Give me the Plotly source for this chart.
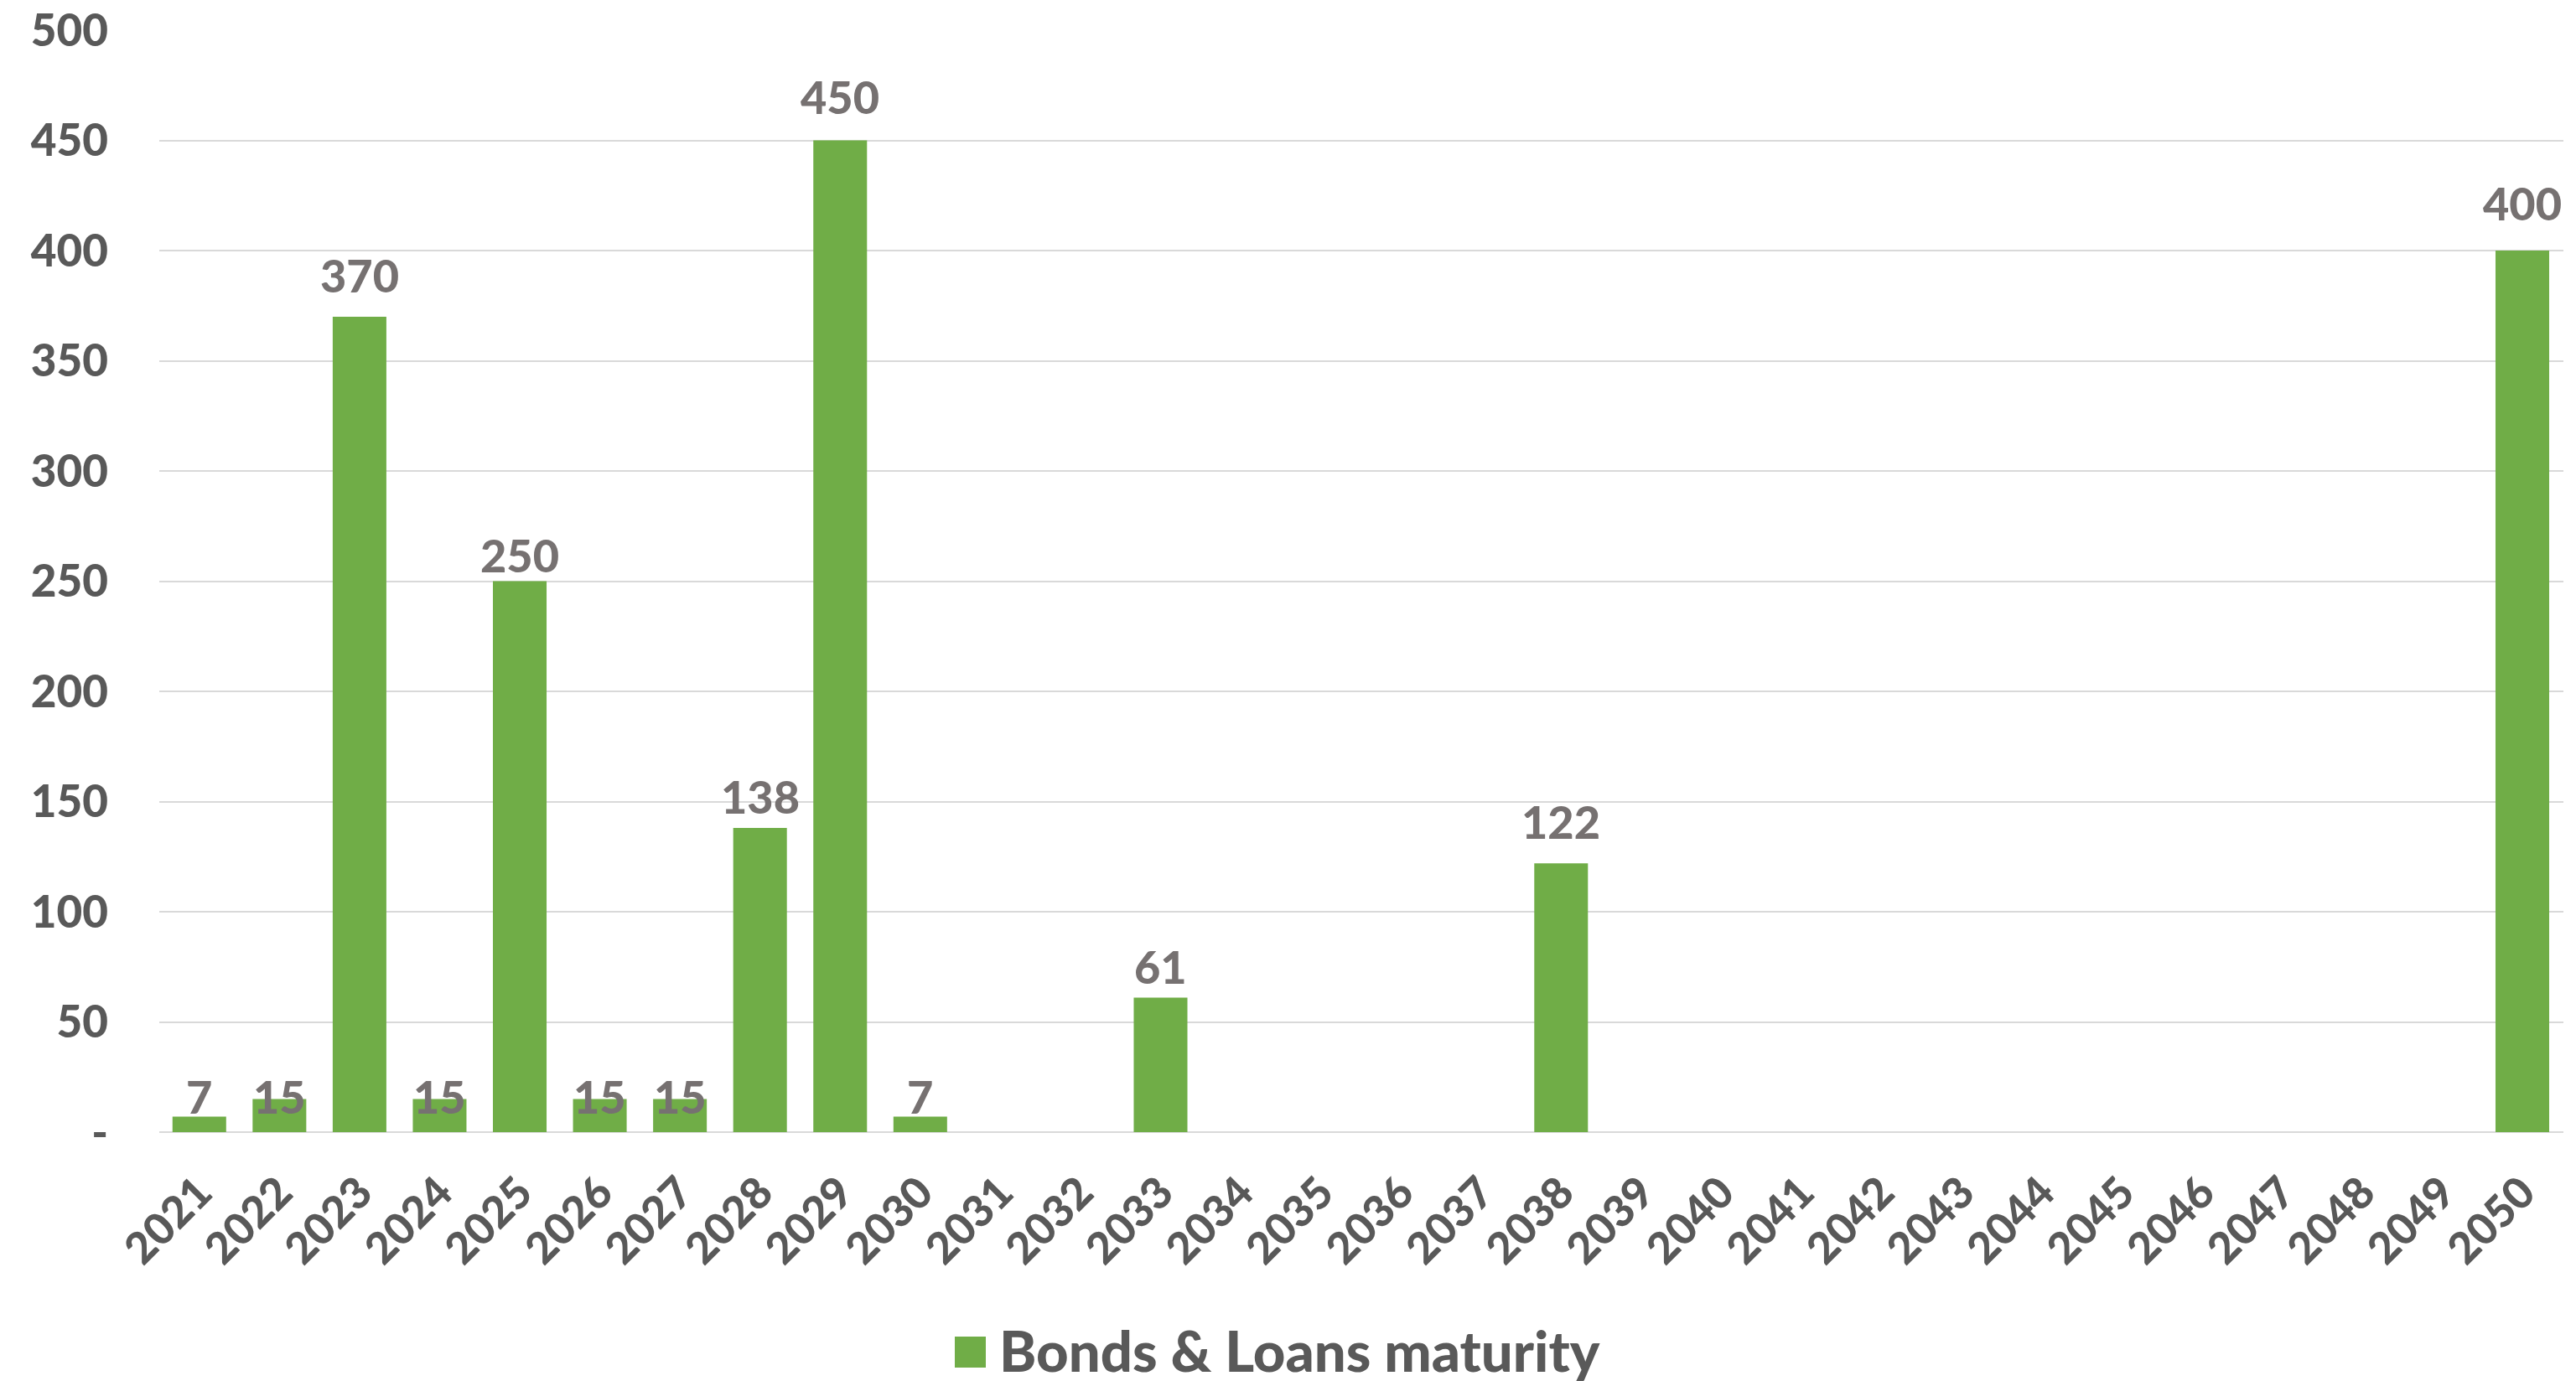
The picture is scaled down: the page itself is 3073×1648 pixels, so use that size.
import plotly.graph_objects as go

# Debt maturity profile: bonds & loans falling due per year
years = [str(y) for y in range(2021, 2051)]
maturity = [7, 15, 370, 15, 250, 15, 15, 138, 450, 7,
            None, None, 61, None, None, None, None, 122, None, None,
            None, None, None, None, None, None, None, None, None, 400]

y_tick_vals = [0, 50, 100, 150, 200, 250, 300, 350, 400, 450, 500]
y_tick_text = ["-", "50", "100", "150", "200", "250", "300", "350", "400", "450", "500"]

series_name = "Bonds & Loans maturity"

# layout constants (pixels)
W, H = 3073, 1648
ML, MR, MT, MB = 190, 15, 36, 297
BAR_COLOR = "#70AD47"
LABEL_COLOR = "#767171"
TICK_COLOR = "#595959"
GRID_COLOR = "#D9D9D9"
FONT = "Lato"
WEIGHT = 900

# vertical distance (px) from each bar top to the centre of its value label
label_lift = {"2021": 24, "2022": 3, "2023": 49, "2024": 3, "2025": 31,
              "2026": 3, "2027": 3, "2028": 38, "2029": 52, "2030": 24,
              "2033": 37, "2038": 50, "2050": 57}

fig = go.Figure()
fig.add_trace(go.Bar(
    x=years, y=maturity, name=series_name,
    marker=dict(color=BAR_COLOR, line=dict(width=0)),
    showlegend=False,
))

annotations = []
for i, (yr, v) in enumerate(zip(years, maturity)):
    if v is None:
        continue
    annotations.append(dict(
        x=i, y=v, xref="x", yref="y", text=str(v), showarrow=False,
        yanchor="middle", xanchor="center", yshift=label_lift.get(yr, 30),
        font=dict(family=FONT, size=54, color=LABEL_COLOR, weight=WEIGHT),
    ))

# legend drawn by hand so the swatch can be as large as the text
plot_w = W - ML - MR
plot_h = H - MT - MB
def px_x(px):
    return (px - ML) / plot_w
def px_y(py):
    return (H - MB - py) / plot_h

sw_x0, sw_x1, sw_y0, sw_y1 = 1139, 1176, 1595, 1632
shapes = [dict(type="rect", xref="paper", yref="paper",
               x0=px_x(sw_x0), x1=px_x(sw_x1), y0=px_y(sw_y1), y1=px_y(sw_y0),
               fillcolor=BAR_COLOR, line=dict(width=0))]
annotations.append(dict(
    x=px_x(1190), y=px_y((sw_y0 + sw_y1) / 2 - 2), xref="paper", yref="paper",
    text=series_name, showarrow=False, xanchor="left", yanchor="middle",
    font=dict(family=FONT, size=67, color=TICK_COLOR, weight=WEIGHT),
))

fig.update_layout(
    width=W, height=H,
    margin=dict(l=ML, r=MR, t=MT, b=MB, autoexpand=False),
    paper_bgcolor="white", plot_bgcolor="white",
    bargap=0.33,
    showlegend=False,
    annotations=annotations,
    shapes=shapes,
    font=dict(family=FONT, color=TICK_COLOR),
)
fig.update_xaxes(
    type="category", tickangle=-45, ticks="", showgrid=False, showline=False,
    tickfont=dict(family=FONT, size=52, color=TICK_COLOR, weight=WEIGHT),
    ticklabelstandoff=30,
)
fig.update_yaxes(
    range=[0, 500], tickvals=y_tick_vals, ticktext=y_tick_text, ticks="",
    showgrid=True, gridcolor=GRID_COLOR, gridwidth=2,
    zeroline=True, zerolinecolor=GRID_COLOR, zerolinewidth=2,
    showline=False,
    tickfont=dict(family=FONT, size=53, color=TICK_COLOR, weight=WEIGHT),
    ticklabelstandoff=60,
)

fig.write_html("out.html")
